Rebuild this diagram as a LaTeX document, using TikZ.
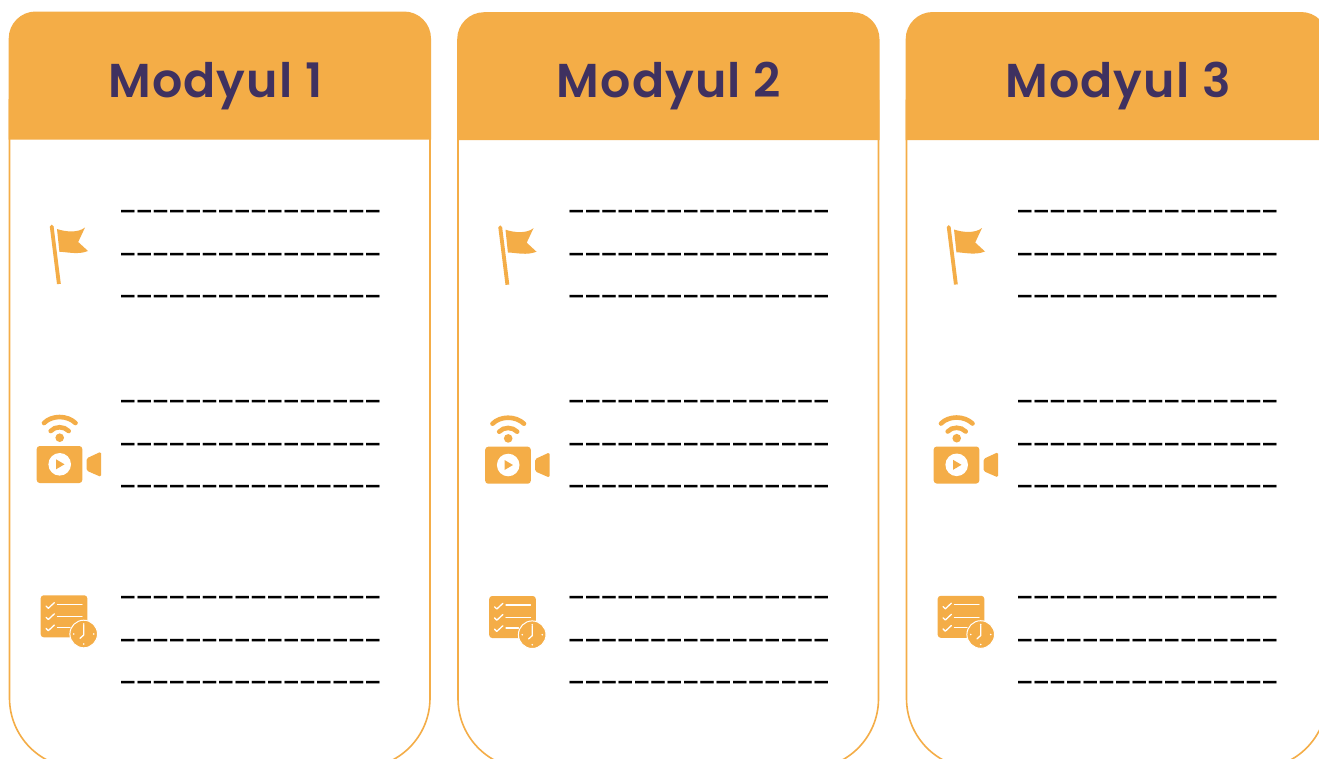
\documentclass[tikz,border=0pt]{standalone}
\usepackage{fontspec}
\newfontfamily\titlefont[LetterSpace=2.5]{Poppins SemiBold}
\newfontfamily\blankfont[LetterSpace=10.5]{DejaVu Sans Bold}
\definecolor{accent}{HTML}{F4AD47}
\definecolor{ink}{HTML}{3F3160}
\tikzset{
  panelline/.style={draw=accent,line width=1.6pt},
  headerfill/.style={fill=accent},
  titletext/.style={text=ink,inner sep=0pt,anchor=base west,font=\titlefont\fontsize{47.5}{50}\selectfont},
  blankline/.style={text=black,inner sep=0pt,anchor=base west,font=\blankfont\fontsize{27}{30}\selectfont},
  iconfill/.style={fill=accent,draw=none},
  whitestroke/.style={draw=white,line width=1.3pt,line cap=round,line join=round},
  wifi/.style={draw=accent,line width=4.6pt,line cap=round},
}
\newcommand{\blanks}{\_\_\_\_\_\_\_\_\_\_\_\_\_\_\_\_}
\newcommand{\modpanel}[4]{%
\begin{scope}[shift={(#2,#3)}]
  % outline
  \path[panelline,fill=white] (9.5,100) {[rounded corners=70pt] -- (9.5,768) -- (430,768)} -- (430,100) -- cycle;
  % header
  \path[headerfill] (8.7,139.5) {[rounded corners=27pt] -- (8.7,11.5) -- (431,11.5)} -- (431,139.5) -- cycle;
  \node[titletext] (title#1) at (108,97) {Modyul #4};
  % flag
  \draw[accent,line width=3.8pt] (51.7,226.5) -- (58.9,284);
  \fill[accent] (51.7,226.5) circle[radius=1.9];
  \path[iconfill] (57,229) .. controls (66,232) and (78,233) .. (85,227.5) -- (78.2,242) -- (88,251) .. controls (78,255) and (68,252) .. (59.4,251.8) -- cycle;
  % camera
  \path[iconfill,rounded corners=3pt] (36.7,446) rectangle (82.3,483);
  \fill[white] (59.7,464.3) circle[radius=11.3];
  \path[iconfill] (56,459.3) -- (64.5,464.3) -- (56,469.3) -- cycle;
  \path[iconfill,rounded corners=1.5pt] (86.7,458.3) -- (101,451.7) -- (101,476.9) -- (86.7,470.7) -- cycle;
  \fill[accent] (59.7,437.7) circle[radius=4.3];
  \draw[wifi] (50.7,431) .. controls (55,426) and (64,426) .. (68.7,431);
  \draw[wifi] (44,423) .. controls (52,415) and (67,415) .. (75.5,423);
  % checklist
  \path[iconfill,rounded corners=3pt] (40.7,595.3) rectangle (87.3,637.3);
  \draw[whitestroke] (57.5,604.3) -- (82,604.3);
  \draw[whitestroke] (57.5,616.7) -- (82,616.7);
  \draw[whitestroke] (57.5,627.3) -- (70,627.3);
  \foreach \d in {0,11.2,22.4}{
    \draw[whitestroke] (46,606+\d) -- (48.3,608.3+\d) -- (54.3,602.7+\d);
  }
  \filldraw[fill=accent,draw=white,line width=1pt] (83.7,634) circle[radius=13.8];
  \draw[whitestroke] (83.7,625) -- (83.7,635) -- (80,638.3);
  \foreach \a/\b in {83.7/624,83.7/644,73.7/634,93.7/634}{\fill[white] (\a,\b) circle[radius=0.9];}
  % blanks
  \foreach \n/\y in {a/206.1,b/249.1,c/291.1,d/396.1,e/439.1,f/481.1,g/592.1,h/635.1,i/677.1}{
    \node[blankline] (line#1\n) at (121,\y) {\blanks};
  }
\end{scope}}
\begin{document}
\begin{tikzpicture}[x=1pt,y=-1pt]
\useasboundingbox (0,0) rectangle (1319,758);
\fill[white] (0,0) rectangle (1319,758);
\begin{scope}
\clip (0,0) rectangle (1319,758);
\modpanel{one}{0}{0}{1}
\modpanel{two}{448.5}{0.7}{2}
\modpanel{three}{897}{0.5}{3}
\end{scope}
\end{tikzpicture}
\end{document}
